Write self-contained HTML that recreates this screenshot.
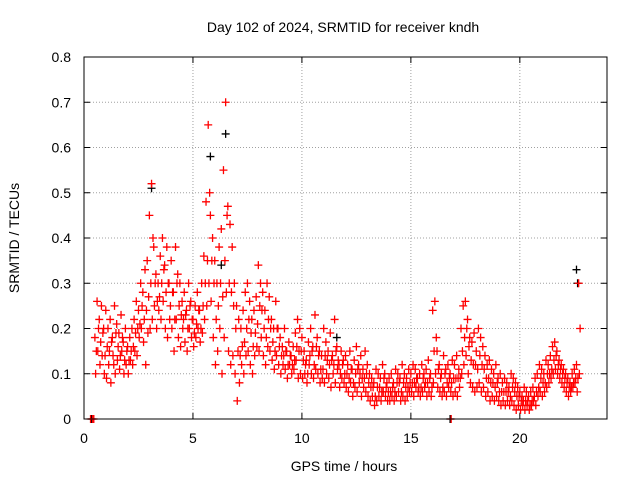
<!DOCTYPE html>
<html><head><meta charset="utf-8"><style>
body{margin:0;background:#fff;}
svg{display:block;font-family:"Liberation Sans",sans-serif;}
</style></head><body>
<svg id="c" width="640" height="480">
<text x="343" y="32" text-anchor="middle" font-size="14">Day 102 of 2024, SRMTID for receiver kndh</text>
<text transform="translate(19,238) rotate(-90)" text-anchor="middle" font-size="14">SRMTID / TECUs</text>
<text x="344" y="471" text-anchor="middle" font-size="14">GPS time / hours</text>
<g id="grid"></g><g id="marks"></g>
<rect x="84" y="57" width="523" height="362" fill="none" stroke="#000" stroke-width="1"/>
</svg>
<script>
const t0 = 0.5, dt = 0.1;
const seriesA = [.18,.26,.22,.25,.2,
.24,.2,.22,.18,.25,.21,.19,.23,.17,.2,
.16,.18,.2,.22,.26,.24,.3,.28,.33,.35,
.45,.52,.38,.32,.3,.36,.4,.34,.38,.3,
.35,.28,.38,.32,.3,.26,.28,.24,.3,.26,
.22,.25,.28,.24,.3,.36,.48,.65,.45,.4,
.35,.3,.38,.42,.55,.7,.47,.43,.38,.3,
.25,.22,.2,.24,.28,.3,.26,.22,.24,.27,
.34,.3,.28,.24,.3,.27,.22,.2,.26,.2,
.18,.16,.2,.15,.17,.14,.16,.19,.22,.2,
.18,.15,.13,.17,.2,.16,.23,.18,.15,.14,
.2,.17,.15,.19,.14,.22,.16,.12,.15,.13,
.14,.12,.15,.11,.13,.16,.12,.14,.11,.15,
.12,.1,.09,.08,.11,.1,.09,.12,.1,.08,
.09,.1,.08,.11,.1,.09,.12,.1,.09,.11,
.1,.12,.11,.09,.1,.12,.1,.11,.13,.1,
.24,.26,.15,.12,.1,.14,.11,.12,.1,.13,
.12,.14,.11,.2,.25,.26,.22,.18,.17,.19,
.15,.2,.18,.16,.14,.12,.13,.11,.1,.12,
.09,.1,.08,.09,.08,.07,.1,.09,.08,.07,
.06,.05,.07,.06,.05,.06,.07,.09,.1,.12,
.11,.1,.13,.12,.14,.16,.17,.15,.13,.12,
.11,.1,.09,.08,.1,.11,.12,.3];
const seriesB = [.1,.15,.12,.14,.1,
.09,.12,.08,.14,.1,.13,.11,.15,.1,.12,
.1,.13,.12,.15,.14,.18,.2,.17,.12,.19,
.2,.22,.25,.2,.24,.22,.26,.2,.18,.22,
.2,.15,.22,.18,.16,.2,.17,.15,.2,.18,
.16,.18,.2,.17,.19,.22,.25,.3,.26,.18,
.12,.15,.2,.1,.18,.28,.15,.12,.14,.1,
.04,.08,.12,.1,.14,.15,.12,.1,.14,.16,
.15,.18,.14,.12,.16,.15,.13,.11,.14,.12,
.1,.12,.11,.09,.12,.1,.11,.13,.09,.1,
.09,.1,.08,.12,.1,.09,.11,.1,.08,.09,
.08,.1,.09,.07,.1,.08,.11,.07,.09,.08,
.07,.06,.08,.05,.07,.06,.08,.05,.07,.06,
.05,.04,.05,.03,.04,.05,.04,.06,.05,.04,
.04,.05,.04,.05,.06,.04,.05,.04,.05,.06,
.06,.05,.07,.06,.05,.06,.07,.05,.06,.05,
.08,.1,.07,.06,.05,.06,.05,.07,.06,.05,
.06,.05,.07,.1,.12,.14,.1,.08,.07,.06,
.07,.08,.06,.07,.05,.06,.04,.05,.04,.05,
.04,.03,.04,.03,.04,.03,.04,.03,.02,.03,
.02,.03,.02,.03,.02,.03,.04,.03,.05,.06,
.05,.06,.07,.08,.09,.1,.11,.1,.09,.08,
.07,.06,.05,.06,.07,.08,.06,.1];
const seriesC = [.15,.2,.17,.19,.14,
.16,.15,.17,.12,.19,.16,.14,.18,.13,.15,
.13,.15,.16,.19,.2,.21,.25,.22,.24,.27,
.3,.4,.3,.26,.27,.3,.33,.28,.3,.25,
.28,.22,.3,.25,.23,.22,.23,.2,.25,.22,
.19,.21,.24,.2,.25,.3,.35,.5,.35,.3,
.22,.25,.3,.27,.35,.45,.3,.28,.25,.2,
.15,.14,.16,.17,.2,.22,.19,.16,.19,.21,
.25,.24,.2,.18,.22,.2,.17,.15,.2,.16,
.14,.14,.15,.12,.14,.12,.13,.16,.15,.15,
.13,.12,.1,.14,.15,.12,.16,.14,.11,.11,
.14,.13,.12,.13,.12,.15,.13,.1,.12,.1,
.1,.09,.11,.08,.1,.11,.1,.09,.09,.1,
.08,.07,.07,.05,.07,.07,.06,.09,.07,.06,
.06,.07,.06,.08,.08,.06,.08,.07,.07,.08,
.08,.08,.09,.07,.07,.09,.08,.08,.09,.07,
.15,.18,.11,.09,.07,.1,.08,.09,.08,.09,
.09,.09,.09,.15,.18,.2,.16,.13,.12,.12,
.11,.14,.12,.11,.09,.09,.08,.08,.07,.08,
.06,.06,.06,.06,.06,.05,.07,.06,.05,.05,
.04,.04,.04,.04,.03,.04,.05,.06,.07,.09,
.08,.08,.1,.1,.11,.13,.14,.12,.11,.1,
.09,.08,.07,.07,.08,.09,.09,.2];
const blackTimes = [3.1,5.8,6.5,22.6,22.65,0.35,16.8,11.6,6.3];
const blackValues = [.51,.58,.63,.33,.30,0,0,.18,.34];
const redZeroTimes = [0.3,0.4,0.45,16.85];
const xTicks = [0,5,10,15,20];
const yTicks = [0,0.1,0.2,0.3,0.4,0.5,0.6,0.7,0.8];
const yTickLabels = ["0","0.1","0.2","0.3","0.4","0.5","0.6","0.7","0.8"];

const X0=84,X1=607,Y0=419,Y1=57;
const xs = h => X0 + h/24*(X1-X0);
const ys = v => Y0 - v/0.8*(Y0-Y1);
const NS="http://www.w3.org/2000/svg";
const svg=document.getElementById('c');
const grid=document.getElementById('grid');
const marks=document.getElementById('marks');
function mk(tag,attrs,parent){const e=document.createElementNS(NS,tag);for(const k in attrs)e.setAttribute(k,attrs[k]);parent.appendChild(e);return e;}
yTicks.forEach((v,i)=>{
  const y=ys(v);
  if(i>0&&i<yTicks.length-1){const g=mk('line',{x1:X0,x2:X1,y1:y,y2:y,stroke:'#a0a0a0','stroke-dasharray':'1,2'},grid);
  
  }
  mk('line',{x1:X0,x2:X0+6,y1:y,y2:y,stroke:'#000'},grid);
  mk('line',{x1:X1,x2:X1-6,y1:y,y2:y,stroke:'#000'},grid);
  const t=mk('text',{x:X0-13,y:y+5,'text-anchor':'end','font-size':'14'},svg);
  t.textContent=yTickLabels[i];
  
  
});
xTicks.forEach(h=>{
  const x=xs(h);
  if(h>0){const g=mk('line',{x1:x,x2:x,y1:Y0,y2:Y1,stroke:'#a0a0a0','stroke-dasharray':'1,2'},grid);
  
  }
  mk('line',{x1:x,x2:x,y1:Y0,y2:Y0-6,stroke:'#000'},grid);
  mk('line',{x1:x,x2:x,y1:Y1,y2:Y1+6,stroke:'#000'},grid);
  const t=mk('text',{x:x,y:Y0+24,'text-anchor':'middle','font-size':'14'},svg);
  t.textContent=String(h);
  
  
});
function plus(h,v,color){
  const x=xs(h),y=ys(v);
  const p=mk('path',{d:`M${x-4},${y}h8M${x},${y-4}v8`,stroke:color,'stroke-width':'1.3',fill:'none'},marks);
  
  
}
blackTimes.forEach((h,i)=>plus(h,blackValues[i],'#000'));
[seriesA,seriesB,seriesC].forEach((s,k)=>s.forEach((v,i)=>plus(t0+i*dt+k*0.033,v,'#f00')));
redZeroTimes.forEach(h=>plus(h,0,'#f00'));
</script>
</body></html>
